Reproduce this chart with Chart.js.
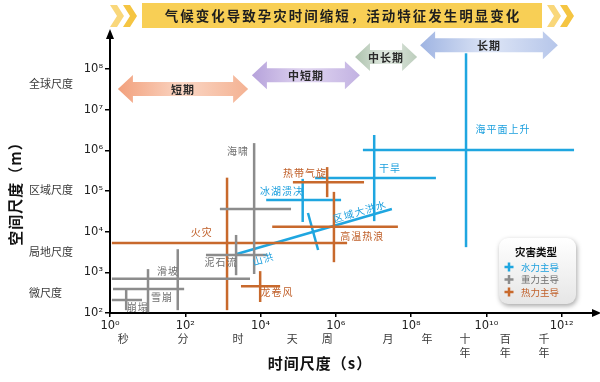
<!DOCTYPE html>
<html>
<head>
<meta charset="utf-8">
<script src="https://cdn.jsdelivr.net/npm/chart.js@4.4.0/dist/chart.umd.min.js"></script>
<style>
  html, body { margin: 0; padding: 0; background: #fff; }
  #wrap { width: 600px; height: 382px; }
</style>
</head>
<body>
<div id="wrap"><canvas id="scaleChart" width="600" height="382"></canvas></div>
<script>
// all values are log10 exponents (time in s, space in m)
const hazards   = ['海啸', '泥石流', '滑坡', '雪崩', '崩塌', '火灾', '龙卷风', '热带气旋', '高温热浪', '冰湖溃决', '干旱', '海平面上升'];
const hazardType = ['重力', '重力', '重力', '重力', '重力', '热力', '热力', '热力', '热力', '水力', '水力', '水力'];
const timeMin  = [2.92, 2.55, 0.05, 0.08, 0.05, 0.05, 3.48, 4.86, 4.31, 4.15, 5.45, 6.72];
const timeMax  = [4.81, 4.17, 3.72, 1.97, 0.85, 6.30, 4.52, 6.75, 7.65, 6.14, 8.66, 12.33];
const timeMid  = [3.83, 3.35, 1.80, 1.01, 0.43, 3.11, 3.99, 5.77, 5.95, 5.12, 7.02, 9.46];
const spaceMin = [2.96, 2.93, 2.07, 2.02, 2.07, 2.07, 2.27, 4.85, 3.25, 4.24, 4.26, 3.62];
const spaceMax = [6.18, 3.92, 3.57, 3.08, 2.59, 5.33, 3.03, 5.59, 4.98, 5.30, 6.38, 8.39];
const spaceMid = [4.56, 3.43, 2.84, 2.59, 2.32, 3.72, 2.66, 5.22, 4.12, 4.78, 5.32, 6.01];
// where each name sits
const labelTime  = [3.40, 2.95, 1.54, 1.38, 0.74, 2.44, 4.44, 5.18, 6.70, 4.57, 7.44, 10.44];
const labelSpace = [5.98, 3.25, 3.03, 2.39, 2.15, 3.99, 2.52, 5.44, 3.89, 5.00, 5.57, 6.53];

// floods drawn as slanted lines
const floods     = ['区域大洪水', '山洪'];
const floodTime  = [[3.37, 7.49], [5.26, 5.53]];
const floodSpace = [[3.45, 4.56], [4.46, 3.55]];
const floodLabelTime  = [6.64, 4.07];
const floodLabelSpace = [4.50, 3.33];

const typeNames = ['水力主导', '重力主导', '热力主导'];
const typeKeys  = ['水力', '重力', '热力'];

const periods     = ['短期', '中短期', '中长期', '长期'];
const periodStart = [0.21, 3.77, 6.51, 8.24];
const periodEnd   = [3.67, 6.64, 8.16, 11.90];
const periodLevel = [7.51, 7.85, 8.30, 8.59];

const xTickExp = [0, 2, 4, 6, 8, 10, 12];
const yTickExp = [2, 3, 4, 5, 6, 7, 8];
const timeUnits  = ['秒', '分', '时', '天', '周', '月', '年', '十年', '百年', '千年'];
const timeUnitAt = [0.35, 1.94, 3.40, 4.84, 5.77, 7.39, 8.42, 9.43, 10.50, 11.53];
const spaceUnits  = ['全球尺度', '区域尺度', '局地尺度', '微尺度'];
const spaceUnitAt = [7.63, 5.03, 3.50, 2.49];

const title = '气候变化导致孕灾时间缩短，活动特征发生明显变化';

const lineColor = { '水力': '#1fa6e0', '重力': '#8c8c8c', '热力': '#c8692c' };
const textColor = { '水力': '#1b9fde', '重力': '#707070', '热力': '#c0602a' };
const periodColors = [
  ['#f2a07c', '#fad6c4', '#f4b293'],
  ['#b6a2db', '#e0d5f0', '#c2b2e2'],
  ['#adc2ad', '#e2eae2', '#bccdbc'],
  ['#9fb4e2', '#dde5f6', '#b6c6ea']
];
const CJK = '"Noto Sans CJK SC", sans-serif';

const pow = e => Math.pow(10, e);
const sup = n => String(n).split('').map(c => '⁰¹²³⁴⁵⁶⁷⁸⁹'[+c]).join('');

const datasets = [];
hazards.forEach((name, i) => {
  const c = lineColor[hazardType[i]];
  const base = { label: name, showLine: true, pointRadius: 0, borderWidth: 2.5, borderColor: c, fill: false, clip: false };
  datasets.push(Object.assign({}, base, {
    data: [{ x: pow(timeMin[i]), y: pow(spaceMid[i]) }, { x: pow(timeMax[i]), y: pow(spaceMid[i]) }]
  }));
  datasets.push(Object.assign({}, base, {
    data: [{ x: pow(timeMid[i]), y: pow(spaceMin[i]) }, { x: pow(timeMid[i]), y: pow(spaceMax[i]) }]
  }));
});
floods.forEach((name, i) => {
  datasets.push({
    label: name, showLine: true, pointRadius: 0, borderWidth: 2.5, borderColor: lineColor['水力'], clip: false,
    data: [{ x: pow(floodTime[i][0]), y: pow(floodSpace[i][0]) }, { x: pow(floodTime[i][1]), y: pow(floodSpace[i][1]) }]
  });
});

function doubleArrow(ctx, x1, x2, yc, stops) {
  const h = 14, bh = 7, head = 15;
  const g = ctx.createLinearGradient(x1, 0, x2, 0);
  g.addColorStop(0, stops[0]);
  g.addColorStop(0.5, stops[1]);
  g.addColorStop(1, stops[2]);
  ctx.beginPath();
  ctx.moveTo(x1, yc);
  ctx.lineTo(x1 + head, yc - h);
  ctx.lineTo(x1 + head, yc - bh);
  ctx.lineTo(x2 - head, yc - bh);
  ctx.lineTo(x2 - head, yc - h);
  ctx.lineTo(x2, yc);
  ctx.lineTo(x2 - head, yc + h);
  ctx.lineTo(x2 - head, yc + bh);
  ctx.lineTo(x1 + head, yc + bh);
  ctx.lineTo(x1 + head, yc + h);
  ctx.closePath();
  ctx.fillStyle = g;
  ctx.fill();
}

function chevron(ctx, x, y, w, h, t, color) {
  ctx.beginPath();
  ctx.moveTo(x, y);
  ctx.lineTo(x + t, y);
  ctx.lineTo(x + w, y + h / 2);
  ctx.lineTo(x + t, y + h);
  ctx.lineTo(x, y + h);
  ctx.lineTo(x + w - t, y + h / 2);
  ctx.closePath();
  ctx.fillStyle = color;
  ctx.fill();
}

function roundRect(ctx, x, y, w, h, r) {
  ctx.beginPath();
  ctx.moveTo(x + r, y);
  ctx.arcTo(x + w, y, x + w, y + h, r);
  ctx.arcTo(x + w, y + h, x, y + h, r);
  ctx.arcTo(x, y + h, x, y, r);
  ctx.arcTo(x, y, x + w, y, r);
  ctx.closePath();
}

function plus(ctx, x, y, s, color) {
  ctx.strokeStyle = color;
  ctx.lineWidth = 2.5;
  ctx.beginPath();
  ctx.moveTo(x - s, y); ctx.lineTo(x + s, y);
  ctx.moveTo(x, y - s); ctx.lineTo(x, y + s);
  ctx.stroke();
}

const decor = {
  id: 'decor',
  beforeDatasetsDraw(chart) {
    const { ctx, scales: { x, y } } = chart;
    ctx.save();
    // banner
    chevron(ctx, 110, 5, 14, 22, 7, '#f9d77a');
    chevron(ctx, 123, 5, 14, 22, 7, '#f5c542');
    chevron(ctx, 547, 5, 14, 22, 7, '#f9d77a');
    chevron(ctx, 560, 5, 14, 22, 7, '#f5c542');
    ctx.fillStyle = '#f8cf55';
    ctx.fillRect(142, 3, 400, 25);
    ctx.fillStyle = '#1e1e1e';
    ctx.font = 'bold 13.5px ' + CJK;
    ctx.letterSpacing = '2px';
    ctx.textAlign = 'center';
    ctx.textBaseline = 'middle';
    ctx.fillText(title, 343, 16);
    ctx.letterSpacing = '0px';

    // period arrows
    periods.forEach((p, i) => {
      const x1 = x.getPixelForValue(pow(periodStart[i]));
      const x2 = x.getPixelForValue(pow(periodEnd[i]));
      const yc = y.getPixelForValue(pow(periodLevel[i]));
      doubleArrow(ctx, x1, x2, yc, periodColors[i]);
      ctx.fillStyle = '#2a2a2a';
      ctx.font = 'bold 11px ' + CJK;
      ctx.letterSpacing = '1px';
      ctx.fillText(p, (x1 + x2) / 2, yc + 1);
      ctx.letterSpacing = '0px';
    });
    ctx.restore();
  },
  afterDraw(chart) {
    const { ctx, chartArea: a, scales: { x, y } } = chart;
    ctx.save();
    ctx.textAlign = 'center';
    ctx.textBaseline = 'middle';

    // axis arrows
    ctx.fillStyle = '#000';
    ctx.beginPath();
    ctx.moveTo(a.left, a.top - 6); ctx.lineTo(a.left - 4, a.top + 4); ctx.lineTo(a.left + 4, a.top + 4);
    ctx.closePath(); ctx.fill();
    ctx.beginPath();
    ctx.moveTo(a.right + 4, a.bottom); ctx.lineTo(a.right - 5, a.bottom - 4); ctx.lineTo(a.right - 5, a.bottom + 4);
    ctx.closePath(); ctx.fill();

    // hazard names
    ctx.font = '10px ' + CJK;
    ctx.letterSpacing = '1px';
    hazards.forEach((name, i) => {
      ctx.fillStyle = textColor[hazardType[i]];
      ctx.fillText(name, x.getPixelForValue(pow(labelTime[i])), y.getPixelForValue(pow(labelSpace[i])));
    });
    const fx1 = x.getPixelForValue(pow(floodTime[0][0])), fx2 = x.getPixelForValue(pow(floodTime[0][1]));
    const fy1 = y.getPixelForValue(pow(floodSpace[0][0])), fy2 = y.getPixelForValue(pow(floodSpace[0][1]));
    const ang = Math.atan2(fy2 - fy1, fx2 - fx1);
    floods.forEach((name, i) => {
      ctx.save();
      ctx.translate(x.getPixelForValue(pow(floodLabelTime[i])), y.getPixelForValue(pow(floodLabelSpace[i])));
      ctx.rotate(ang);
      ctx.fillStyle = textColor['水力'];
      ctx.fillText(name, 0, 0);
      ctx.restore();
    });
    ctx.letterSpacing = '0px';

    // time units under the x axis
    ctx.font = '11px ' + CJK;
    ctx.fillStyle = '#3a3a3a';
    timeUnits.forEach((u, i) => {
      const px = x.getPixelForValue(pow(timeUnitAt[i]));
      if (u.length === 1) {
        ctx.fillText(u, px, 339);
      } else {
        ctx.fillText(u[0], px, 339);
        ctx.fillText(u[1], px, 353);
      }
    });
    // space units left of the y axis
    ctx.textAlign = 'left';
    spaceUnits.forEach((u, i) => {
      ctx.fillText(u, 29, y.getPixelForValue(pow(spaceUnitAt[i])));
    });

    // axis titles
    ctx.textAlign = 'center';
    ctx.fillStyle = '#111';
    ctx.font = 'bold 15px ' + CJK;
    ctx.letterSpacing = '1px';
    ctx.fillText('时间尺度（s）', 320, 363);
    ctx.save();
    ctx.translate(15, 190);
    ctx.rotate(-Math.PI / 2);
    ctx.fillText('空间尺度（m）', 0, 0);
    ctx.restore();
    ctx.letterSpacing = '0px';

    // legend box
    ctx.save();
    ctx.shadowColor = 'rgba(0,0,0,0.35)';
    ctx.shadowBlur = 5;
    ctx.shadowOffsetX = 1;
    ctx.shadowOffsetY = 2;
    const lg = ctx.createLinearGradient(0, 238, 0, 304);
    lg.addColorStop(0, '#ffffff');
    lg.addColorStop(1, '#e6e6e6');
    roundRect(ctx, 499, 238, 77, 66, 9);
    ctx.fillStyle = lg;
    ctx.fill();
    ctx.restore();
    ctx.fillStyle = '#111';
    ctx.font = 'bold 10.5px ' + CJK;
    ctx.fillText('灾害类型', 536, 252);
    ctx.font = '9.5px ' + CJK;
    ctx.textAlign = 'left';
    typeNames.forEach((t, i) => {
      const yy = 267 + i * 12.5;
      plus(ctx, 509, yy, 4.5, lineColor[typeKeys[i]]);
      ctx.fillStyle = textColor[typeKeys[i]];
      ctx.fillText(t, 521, yy);
    });
    ctx.restore();
  }
};

new Chart(document.getElementById('scaleChart'), {
  type: 'scatter',
  data: { datasets },
  options: {
    responsive: false,
    animation: false,
    layout: { padding: { left: 70, right: 3, top: 35, bottom: 49 } },
    plugins: { legend: { display: false }, tooltip: { enabled: false } },
    scales: {
      x: {
        type: 'logarithmic',
        min: 1,
        max: pow(12.94),
        afterBuildTicks: s => { s.ticks = xTickExp.map(e => ({ value: pow(e) })); },
        afterFit: s => { s.height = 20; },
        grid: { drawOnChartArea: false, drawTicks: true, tickLength: 4, color: '#000', lineWidth: 1.5 },
        border: { color: '#000', width: 2 },
        ticks: {
          autoSkip: false, maxRotation: 0, padding: 2,
          color: '#222', font: { family: 'DejaVu Sans', size: 11.5 },
          callback: v => '10' + sup(Math.round(Math.log10(v)))
        }
      },
      y: {
        type: 'logarithmic',
        min: pow(2),
        max: pow(8.84),
        afterBuildTicks: s => { s.ticks = yTickExp.map(e => ({ value: pow(e) })); },
        afterFit: s => { s.width = 40; },
        grid: { drawOnChartArea: false, drawTicks: true, tickLength: 5, color: '#000', lineWidth: 1.5 },
        border: { color: '#000', width: 2 },
        ticks: {
          autoSkip: false, padding: 2,
          color: '#222', font: { family: 'DejaVu Sans', size: 11.5 },
          callback: v => '10' + sup(Math.round(Math.log10(v)))
        }
      }
    }
  },
  plugins: [decor]
});
</script>
</body>
</html>
